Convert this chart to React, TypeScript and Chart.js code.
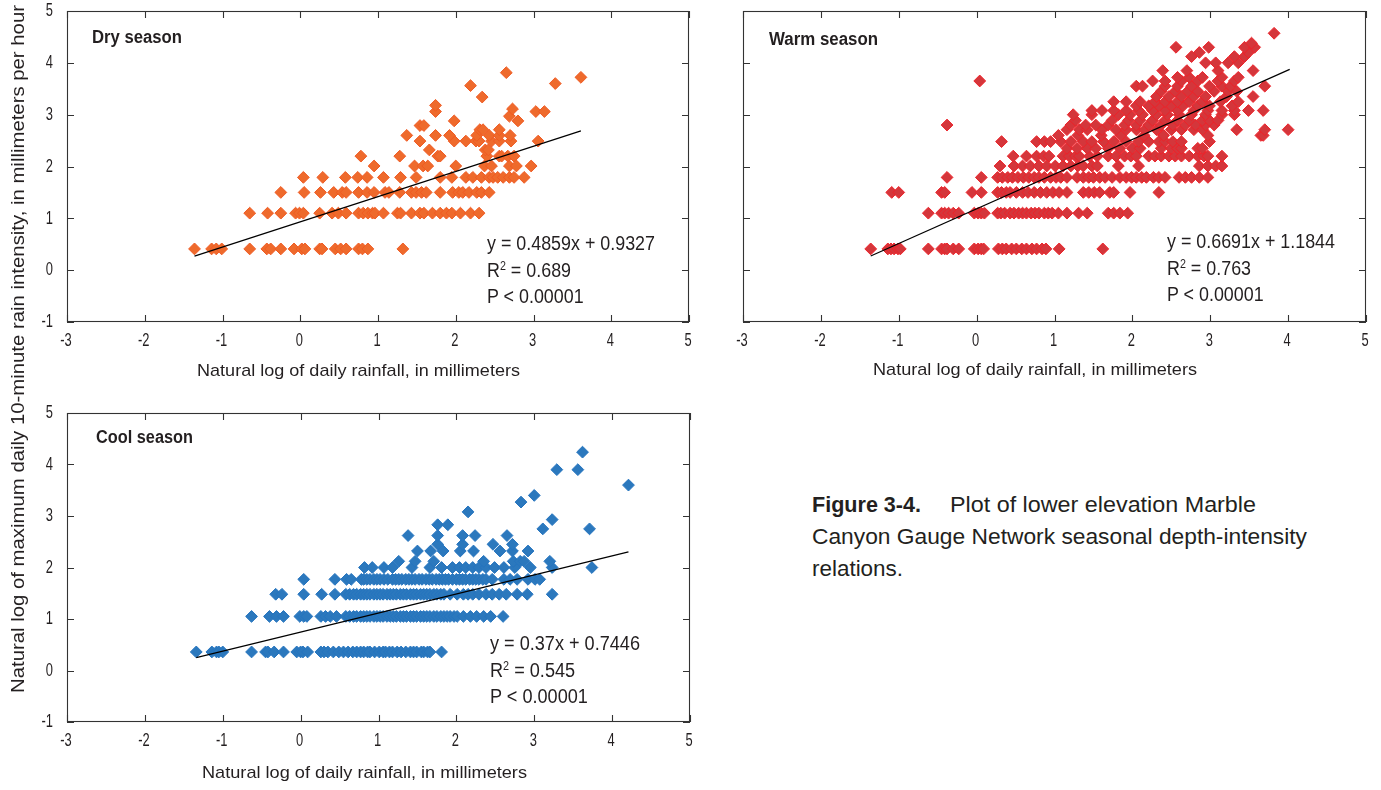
import React, { useEffect, useRef } from "react";
import { Chart, registerables } from "chart.js";

Chart.register(...registerables);

const SANS = "'Liberation Sans', Arial, sans-serif";
const INK = "#231f20";

// Axis ticks shared by all three panels
const xTickValues = [-3, -2, -1, 0, 1, 2, 3, 4, 5];
const yTickValues = [-1, 0, 1, 2, 3, 4, 5];

// ---- Dry season: intensity level (ln mm/h) and the ln daily rainfall values recorded at it
const dryLevels = [0.41, 1.1, 1.5, 1.79, 2.01, 2.2, 2.32, 2.49, 2.6, 2.71, 2.79, 2.88, 2.97, 3.06, 3.11, 3.18, 3.34, 3.56, 3.6, 3.72, 3.81];
const dryRain = [
  [-1.36, -1.14, -1.08, -1.01, -0.65, -0.43, -0.38, -0.25, -0.08, 0.02, 0.06, 0.25, 0.28, 0.45, 0.52, 0.59, 0.75, 0.8, 0.87, 1.32],
  [-0.65, -0.42, -0.25, -0.06, -0.01, 0.04, 0.25, 0.41, 0.49, 0.59, 0.75, 0.81, 0.87, 0.93, 0.96, 1.07, 1.25, 1.29, 1.43, 1.54, 1.59, 1.7, 1.8, 1.88, 1.95, 2.06, 2.19, 2.3],
  [-0.25, 0.05, 0.26, 0.43, 0.54, 0.59, 0.75, 0.86, 0.95, 1.09, 1.14, 1.28, 1.43, 1.49, 1.56, 1.62, 1.8, 1.96, 2.04, 2.09, 2.17, 2.27, 2.33, 2.43],
  [0.04, 0.29, 0.58, 0.74, 0.86, 1.07, 1.29, 1.49, 1.8, 1.95, 2.13, 2.22, 2.33, 2.43, 2.48, 2.54, 2.61, 2.69, 2.75, 2.88],
  [0.95, 1.47, 1.58, 1.64, 2.0, 2.37, 2.46, 2.69, 2.78, 2.97],
  [0.78, 1.28, 1.77, 1.8, 2.4, 2.56, 2.59, 2.67, 2.75],
  [1.66, 2.38, 2.42],
  [1.54, 1.98, 2.13, 2.26, 2.3, 2.46, 2.56, 2.71, 3.06],
  [1.37, 1.74, 1.92, 2.27, 2.43, 2.56, 2.7],
  [2.31, 2.35, 2.56],
  [1.54, 1.59],
  [1.98, 2.8],
  [2.69],
  [1.74, 3.03, 3.14],
  [2.73],
  [1.74],
  [2.34],
  [2.19],
  [3.28],
  [3.61],
  [2.65],
];
const dryFit = { slope: 0.4859, intercept: 0.9327, from: -1.36, to: 3.61 };

// ---- Warm season
const warmLevels = [0.41, 1.1, 1.5, 1.79, 2.01, 2.2, 2.35, 2.48, 2.6, 2.71, 2.8, 2.89, 3.0, 3.08, 3.17, 3.25, 3.35, 3.45, 3.55, 3.65, 3.72, 3.85, 4.0, 4.12, 4.2, 4.3, 4.38, 4.57];
const warmRain = [
  [-1.36, -1.14, -1.1, -1.06, -1.01, -0.98, -0.62, -0.45, -0.41, -0.38, -0.3, -0.23, -0.03, 0.02, 0.06, 0.09, 0.28, 0.33, 0.38, 0.45, 0.51, 0.58, 0.64, 0.71, 0.77, 0.84, 0.89, 1.06, 1.62],
  [-0.62, -0.45, -0.41, -0.36, -0.3, -0.23, -0.03, 0.02, 0.06, 0.1, 0.27, 0.31, 0.36, 0.43, 0.48, 0.54, 0.59, 0.64, 0.7, 0.75, 0.8, 0.87, 0.92, 0.97, 1.05, 1.16, 1.31, 1.42, 1.69, 1.76, 1.84, 1.94],
  [-1.09, -1.0, -0.45, -0.41, -0.06, 0.06, 0.27, 0.32, 0.38, 0.43, 0.51, 0.59, 0.66, 0.74, 0.82, 0.9, 0.98, 1.06, 1.16, 1.37, 1.44, 1.51, 1.58, 1.71, 1.76, 1.97, 2.34],
  [-0.38, 0.06, 0.27, 0.33, 0.4, 0.46, 0.53, 0.6, 0.67, 0.74, 0.8, 0.87, 0.95, 1.02, 1.08, 1.16, 1.29, 1.37, 1.44, 1.5, 1.58, 1.65, 1.74, 1.84, 1.92, 1.99, 2.05, 2.12, 2.18, 2.27, 2.34, 2.42, 2.6, 2.68, 2.76, 2.86, 2.97],
  [0.3, 0.48, 0.59, 0.69, 0.8, 0.9, 1.01, 1.11, 1.21, 1.3, 1.37, 1.48, 1.55, 1.82, 2.08, 2.86, 2.97, 3.07, 3.15],
  [0.47, 0.64, 0.77, 0.86, 0.93, 1.11, 1.19, 1.27, 1.32, 1.45, 1.55, 1.69, 1.79, 1.9, 1.98, 2.05, 2.21, 2.29, 2.37, 2.47, 2.55, 2.63, 2.73, 2.84, 2.92, 2.97, 3.15],
  [1.16, 1.29, 1.42, 1.53, 1.69, 1.84, 2.0, 2.1, 2.37, 2.5, 2.58, 2.63, 2.84, 2.9],
  [0.32, 0.77, 0.87, 0.95, 1.08, 1.21, 1.37, 1.48, 1.63, 1.76, 1.92, 2.08, 2.21, 2.34, 2.42, 2.52, 2.63, 2.99],
  [1.05, 1.3, 1.6, 1.85, 2.15, 2.4, 2.97, 3.65, 3.68],
  [1.16, 1.32, 1.42, 1.61, 1.79, 1.92, 2.05, 2.16, 2.31, 2.5, 2.63, 2.79, 2.9, 3.34, 3.7, 4.0],
  [-0.38, 1.21, 1.4, 1.53, 1.69, 1.9, 2.05, 2.21, 2.37, 2.52, 2.68, 2.81, 2.94, 3.05],
  [1.27, 1.74, 1.95, 2.1, 2.26, 2.42, 2.58, 2.73, 2.9, 2.99, 3.1],
  [1.24, 1.48, 1.82, 1.97, 2.13, 2.31, 2.45, 2.6, 2.76, 2.94, 3.15, 3.31],
  [1.48, 1.61, 1.76, 1.92, 2.08, 2.26, 2.42, 2.58, 2.79, 2.97, 3.15, 3.31, 3.49, 3.68],
  [2.05, 2.21, 2.34, 2.5, 2.65, 2.84, 2.99, 3.28],
  [1.76, 1.92, 2.1, 2.29, 2.42, 2.58, 2.73, 2.9, 3.13, 3.36],
  [2.31, 2.47, 2.63, 2.79, 2.94, 3.21, 3.55],
  [2.37, 2.55, 2.71, 2.84, 3.05, 3.23, 3.34],
  [2.05, 2.13, 2.42, 2.58, 2.76, 2.99, 3.15, 3.26, 3.7],
  [0.04, 2.26, 2.42, 2.63, 2.84, 3.1, 3.31],
  [2.58, 2.73, 2.9, 3.15, 3.36],
  [2.39, 2.7, 3.1, 3.55],
  [2.94, 3.07, 3.23, 3.36],
  [2.76, 3.31, 3.44],
  [2.86, 3.49],
  [2.56, 2.98, 3.44, 3.57],
  [3.53],
  [3.82],
];
const warmFit = { slope: 0.6691, intercept: 1.1844, from: -1.36, to: 4.02 };

// ---- Cool season
const coolLevels = [0.36, 1.05, 1.48, 1.77, 2.0, 2.12, 2.32, 2.45, 2.62, 2.75, 2.83, 2.93, 3.08, 3.27, 3.4, 3.6, 3.9, 4.24];
const coolRain = [
  [-1.34, -1.14, -1.08, -1.05, -1.0, -0.63, -0.45, -0.42, -0.34, -0.22, -0.05, 0.0, 0.03, 0.09, 0.26, 0.3, 0.35, 0.42, 0.49, 0.55, 0.61, 0.67, 0.72, 0.77, 0.81, 0.86, 0.89, 0.95, 1.01, 1.06, 1.09, 1.14, 1.18, 1.24, 1.29, 1.35, 1.41, 1.45, 1.49, 1.55, 1.58, 1.63, 1.66, 1.81],
  [-0.63, -0.4, -0.31, -0.22, -0.01, 0.04, 0.08, 0.26, 0.32, 0.38, 0.46, 0.58, 0.63, 0.68, 0.72, 0.77, 0.81, 0.85, 0.89, 0.94, 0.98, 1.02, 1.06, 1.11, 1.15, 1.19, 1.23, 1.28, 1.32, 1.36, 1.41, 1.45, 1.49, 1.54, 1.58, 1.62, 1.66, 1.71, 1.75, 1.8, 1.84, 1.88, 1.92, 1.97, 2.01, 2.09, 2.18, 2.26, 2.35, 2.44, 2.6],
  [-0.32, -0.24, 0.04, 0.27, 0.44, 0.58, 0.63, 0.68, 0.72, 0.77, 0.81, 0.85, 0.89, 0.94, 0.98, 1.02, 1.06, 1.11, 1.15, 1.19, 1.23, 1.28, 1.32, 1.36, 1.41, 1.45, 1.49, 1.54, 1.58, 1.62, 1.66, 1.71, 1.75, 1.8, 1.84, 1.92, 2.01, 2.09, 2.15, 2.21, 2.29, 2.38, 2.46, 2.55, 2.64, 2.78, 2.91, 3.23],
  [0.04, 0.44, 0.59, 0.65, 0.78, 0.81, 0.85, 0.89, 0.94, 0.98, 1.02, 1.07, 1.12, 1.18, 1.22, 1.26, 1.3, 1.35, 1.39, 1.43, 1.47, 1.52, 1.56, 1.61, 1.65, 1.69, 1.74, 1.78, 1.82, 1.86, 1.9, 1.95, 2.0, 2.04, 2.08, 2.12, 2.17, 2.21, 2.25, 2.29, 2.34, 2.38, 2.46, 2.61, 2.69, 2.78, 2.92, 3.01, 3.07],
  [0.82, 0.92, 1.07, 1.18, 1.43, 1.66, 1.81, 1.95, 2.04, 2.12, 2.21, 2.29, 2.38, 2.49, 2.61, 2.75, 2.95, 3.23, 3.74],
  [1.26, 1.47, 1.71, 2.35, 2.73, 2.82, 2.87, 3.2],
  [1.5, 1.67, 1.83, 2.05, 2.22, 2.56, 2.72, 2.92],
  [1.76, 2.08, 2.47, 2.72],
  [1.38, 1.76, 2.08, 2.24, 2.65],
  [3.11, 3.71],
  [1.76, 1.89],
  [3.23],
  [2.15],
  [2.83],
  [3.0],
  [4.21],
  [3.29, 3.56],
  [3.62],
];
const coolFit = { slope: 0.37, intercept: 0.7446, from: -1.34, to: 4.21 };

type Fit = { slope: number; intercept: number; from: number; to: number };
type Area = { left: number; top: number; right: number; bottom: number };

function toPoints(levels: number[], rain: number[][]) {
  return levels.flatMap((lv, i) => rain[i].map((x) => ({ x, y: lv })));
}

// Horizontal squeeze that makes a line of text occupy a given width
let measureCtx: CanvasRenderingContext2D | null = null;
function squeeze(text: string, size: number, bold: boolean, width: number) {
  if (!measureCtx) measureCtx = document.createElement("canvas").getContext("2d");
  if (!measureCtx) return 1;
  measureCtx.font = `${bold ? "bold " : ""}${size}px ${SANS}`;
  const w = measureCtx.measureText(text).width;
  return w > 0 ? width / w : 1;
}

// Condensed tick label drawn at a scale position
function tickLabel(ctx: CanvasRenderingContext2D, text: string, x: number, y: number, align: CanvasTextAlign) {
  ctx.save();
  ctx.translate(x, y);
  ctx.scale(0.68, 1);
  ctx.font = `19px ${SANS}`;
  ctx.fillStyle = INK;
  ctx.textAlign = align;
  ctx.textBaseline = "middle";
  ctx.fillText(text, 0, 0);
  ctx.restore();
}

// Box around the plot area, short inward tick marks on all four sides, and tick labels
const framePlugin = {
  id: "frame",
  afterDraw(chart: any, _args: any, opts: any) {
    const { ctx, chartArea: a, scales } = chart;
    const sx = scales.x;
    const sy = scales.y;
    const len = 7;
    ctx.save();
    ctx.strokeStyle = "#333";
    ctx.lineWidth = 1.1;
    ctx.strokeRect(a.left + 0.5, a.top + 0.5, a.right - a.left - 1, a.bottom - a.top - 1);
    ctx.beginPath();
    xTickValues.forEach((v) => {
      const p = Math.round(sx.getPixelForValue(v)) + 0.5;
      ctx.moveTo(p, a.bottom);
      ctx.lineTo(p, a.bottom - len);
      ctx.moveTo(p, a.top);
      ctx.lineTo(p, a.top + len);
    });
    yTickValues.forEach((v) => {
      const p = Math.round(sy.getPixelForValue(v)) + 0.5;
      ctx.moveTo(a.left, p);
      ctx.lineTo(a.left + len, p);
      ctx.moveTo(a.right, p);
      ctx.lineTo(a.right - len, p);
    });
    ctx.stroke();
    ctx.restore();

    xTickValues.forEach((v) => tickLabel(ctx, String(v), sx.getPixelForValue(v) - 1, a.bottom + 19, "center"));
    if (opts.yLabels) {
      yTickValues.forEach((v) => tickLabel(ctx, String(v), a.left - 14, sy.getPixelForValue(v), "right"));
    }
  },
};

type PanelProps = {
  left: number;
  top: number;
  width: number;
  height: number;
  area: Area;
  yLabels: boolean;
  points: { x: number; y: number }[];
  fill: string;
  edge: string;
  fit: Fit;
};

function Panel({ left, top, width, height, area, yLabels, points, fill, edge, fit }: PanelProps) {
  const ref = useRef<HTMLCanvasElement | null>(null);
  useEffect(() => {
    if (!ref.current) return;
    const fitLine = [fit.from, fit.to].map((x) => ({ x, y: fit.slope * x + fit.intercept }));
    const chart = new Chart(ref.current, {
      type: "scatter",
      data: {
        datasets: [
          {
            type: "line",
            data: fitLine,
            borderColor: "#000",
            borderWidth: 1.2,
            pointRadius: 0,
            fill: false,
          } as any,
          {
            data: points,
            pointStyle: "rectRot",
            pointRadius: 5.9,
            backgroundColor: fill,
            borderColor: edge,
            borderWidth: 1,
          },
        ],
      },
      options: {
        responsive: false,
        animation: false,
        events: [],
        layout: { padding: { top: area.top, right: width - area.right, left: 0, bottom: 0 } },
        plugins: {
          legend: { display: false },
          tooltip: { enabled: false },
          frame: { yLabels },
        } as any,
        scales: {
          x: {
            type: "linear",
            min: -3,
            max: 5,
            grid: { display: false, drawTicks: false },
            border: { display: false },
            afterBuildTicks: (s: any) => {
              s.ticks = xTickValues.map((value) => ({ value }));
            },
            afterFit: (s: any) => {
              s.height = height - area.bottom;
              s.paddingLeft = 0;
              s.paddingRight = 0;
            },
            ticks: { display: false },
          },
          y: {
            type: "linear",
            min: -1,
            max: 5,
            grid: { display: false, drawTicks: false },
            border: { display: false },
            afterBuildTicks: (s: any) => {
              s.ticks = yTickValues.map((value) => ({ value }));
            },
            afterFit: (s: any) => {
              s.width = area.left;
              s.paddingTop = 0;
              s.paddingBottom = 0;
            },
            ticks: { display: false },
          },
        },
      },
      plugins: [framePlugin],
    });
    return () => chart.destroy();
  }, []);
  return (
    <canvas
      ref={ref}
      width={width}
      height={height}
      style={{ position: "absolute", left, top, width, height }}
    />
  );
}

type TextProps = {
  x: number;
  y: number;
  size: number;
  width: number;
  text: string;
  bold?: boolean;
};

// One line of text whose left edge sits at x and whose cap-height middle sits at y
function Txt({ x, y, size, width, text, bold }: TextProps) {
  const k = squeeze(text, size, !!bold, width);
  return (
    <div
      style={{
        position: "absolute",
        left: x,
        top: y - size * 0.59,
        fontFamily: SANS,
        fontSize: size,
        lineHeight: `${size * 1.2}px`,
        fontWeight: bold ? 700 : 400,
        color: INK,
        whiteSpace: "nowrap",
        transform: `scaleX(${k})`,
        transformOrigin: "0 50%",
      }}
    >
      {text}
    </div>
  );
}

function Stats({ x, y, eq, r2, width }: { x: number; y: number; eq: string; r2: string; width: number }) {
  const size = 20;
  const k = squeeze(eq, size, false, width);
  const lines = [
    <>{eq}</>,
    <>
      R<sup style={{ fontSize: 12, verticalAlign: "top", lineHeight: "16px" }}>2</sup> = {r2}
    </>,
    <>P &lt; 0.00001</>,
  ];
  return (
    <>
      {lines.map((content, i) => (
        <div
          key={i}
          style={{
            position: "absolute",
            left: x,
            top: y + i * 26.5 - size * 0.59,
            fontFamily: SANS,
            fontSize: size,
            lineHeight: `${size * 1.2}px`,
            color: INK,
            whiteSpace: "nowrap",
            transform: `scaleX(${k})`,
            transformOrigin: "0 50%",
          }}
        >
          {content}
        </div>
      ))}
    </>
  );
}

const xTitle = "Natural log of daily rainfall, in millimeters";
const yTitle = "Natural log of maximum daily 10-minute rain intensity, in millimeters per hour";

export default function App() {
  const dryPts = toPoints(dryLevels, dryRain);
  const warmPts = toPoints(warmLevels, warmRain);
  const coolPts = toPoints(coolLevels, coolRain);
  const yk = squeeze(yTitle, 19, false, 688);
  return (
    <div style={{ position: "absolute", left: 0, top: 0, width: 1381, height: 790, background: "#fff", overflow: "hidden" }}>
      <Panel left={0} top={0} width={700} height={392} area={{ left: 67, top: 11, right: 689, bottom: 322 }}
        yLabels points={dryPts} fill="#ee6a2c" edge="#f05a22" fit={dryFit} />
      <Panel left={700} top={0} width={681} height={392} area={{ left: 43, top: 11, right: 666, bottom: 322 }}
        yLabels={false} points={warmPts} fill="#d4363b" edge="#ee2229" fit={warmFit} />
      <Panel left={0} top={400} width={700} height={392} area={{ left: 67, top: 13, right: 690, bottom: 322 }}
        yLabels points={coolPts} fill="#2b78bd" edge="#2574bf" fit={coolFit} />

      <Txt x={92} y={38} size={18} bold width={90} text="Dry season" />
      <Txt x={769} y={40} size={18} bold width={109} text="Warm season" />
      <Txt x={96} y={438} size={18} bold width={97} text="Cool season" />

      <Stats x={487} y={243} width={168} eq="y = 0.4859x + 0.9327" r2="0.689" />
      <Stats x={1167} y={241} width={168} eq="y = 0.6691x + 1.1844" r2="0.763" />
      <Stats x={490} y={643} width={150} eq="y = 0.37x + 0.7446" r2="0.545" />

      <Txt x={197} y={371} size={17} width={323} text={xTitle} />
      <Txt x={873} y={370} size={17} width={324} text={xTitle} />
      <Txt x={202} y={773} size={17} width={325} text={xTitle} />

      <div
        style={{
          position: "absolute",
          left: 18,
          top: 349,
          transform: `translate(-50%, -50%) rotate(-90deg) scaleX(${yk})`,
          fontFamily: SANS,
          fontSize: 19,
          lineHeight: "22px",
          color: INK,
          whiteSpace: "nowrap",
        }}
      >
        {yTitle}
      </div>

      <Txt x={812} y={505} size={22} bold width={109} text="Figure 3-4." />
      <Txt x={950} y={505} size={22} width={306} text="Plot of lower elevation Marble" />
      <Txt x={812} y={537} size={22} width={495} text="Canyon Gauge Network seasonal depth-intensity" />
      <Txt x={812} y={569} size={22} width={91} text="relations." />
    </div>
  );
}
